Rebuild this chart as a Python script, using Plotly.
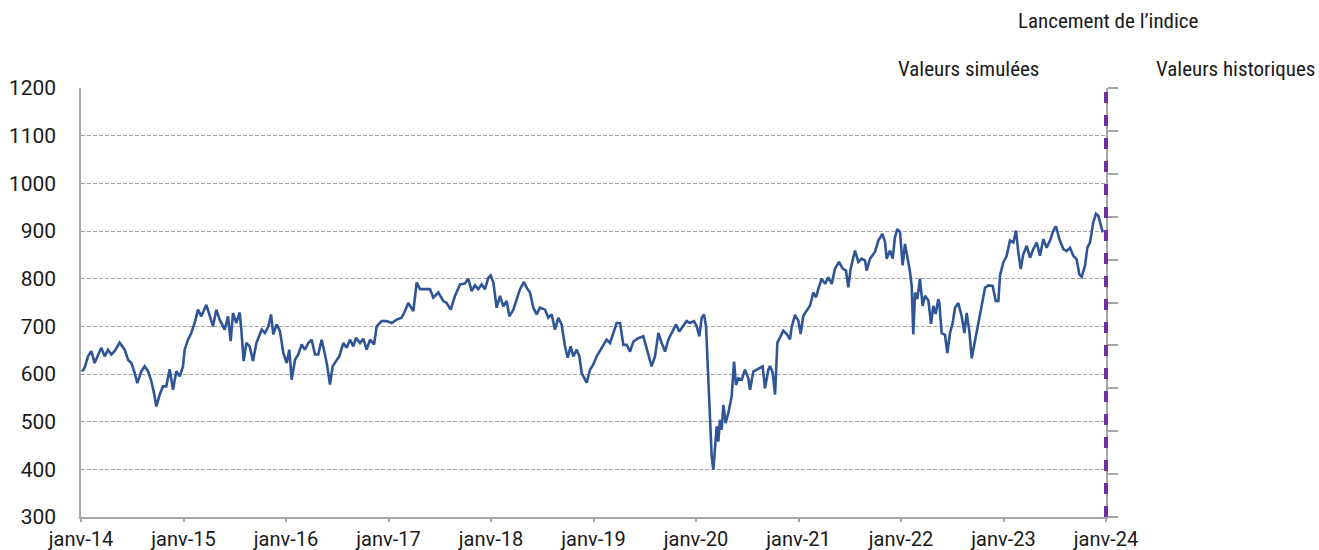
import plotly.graph_objects as go

# decimal years (date position) and index level
t_2014 = [2014.010, 2014.036, 2014.068, 2014.101, 2014.133, 2014.166, 2014.198, 2014.231, 2014.263, 2014.296,
          2014.328, 2014.377, 2014.426, 2014.459, 2014.491, 2014.524, 2014.550, 2014.589, 2014.621, 2014.654,
          2014.686, 2014.712, 2014.735, 2014.768, 2014.800, 2014.832, 2014.865, 2014.898, 2014.930, 2014.963,
          2014.995]
v_2014 = [605, 613, 637, 648, 623, 641, 655, 637, 651, 641,
          648, 666, 651, 630, 623, 602, 581, 606, 616, 606,
          585, 560, 532, 557, 574, 574, 610, 567, 606, 595,
          616]

t_2015 = [2015.011, 2015.044, 2015.076, 2015.109, 2015.141, 2015.174, 2015.223, 2015.255, 2015.288, 2015.320,
          2015.353, 2015.402, 2015.434, 2015.460, 2015.483, 2015.515, 2015.548, 2015.564, 2015.587, 2015.613,
          2015.646, 2015.678, 2015.711, 2015.763, 2015.795, 2015.828, 2015.854, 2015.876, 2015.909, 2015.941,
          2015.974]
v_2015 = [651, 672, 686, 707, 735, 721, 745, 721, 700, 735,
          714, 693, 721, 669, 728, 707, 729, 693, 627, 665,
          658, 627, 665, 693, 686, 700, 725, 683, 704, 690,
          644]

t_2016 = [2016.007, 2016.032, 2016.055, 2016.088, 2016.120, 2016.153, 2016.185, 2016.218, 2016.250, 2016.283,
          2016.315, 2016.348, 2016.380, 2016.403, 2016.429, 2016.455, 2016.488, 2016.520, 2016.559, 2016.592,
          2016.624, 2016.657, 2016.683, 2016.722, 2016.754, 2016.787, 2016.820, 2016.859, 2016.885, 2016.933,
          2016.982]
v_2016 = [623, 651, 588, 630, 641, 662, 651, 665, 672, 641,
          641, 672, 641, 616, 578, 616, 627, 637, 665, 655,
          672, 658, 676, 665, 674, 651, 672, 662, 700, 711,
          711]

t_2017 = [2017.031, 2017.080, 2017.128, 2017.161, 2017.193, 2017.242, 2017.275, 2017.307, 2017.356, 2017.405,
          2017.437, 2017.486, 2017.535, 2017.567, 2017.607, 2017.649, 2017.698, 2017.746, 2017.779, 2017.811,
          2017.844, 2017.876, 2017.909, 2017.941, 2017.974, 2017.997]
v_2017 = [707, 714, 718, 732, 749, 732, 792, 778, 778, 778,
          760, 771, 753, 749, 735, 764, 788, 790, 800, 774,
          786, 778, 788, 778, 802, 807]

t_2018 = [2018.023, 2018.055, 2018.088, 2018.120, 2018.153, 2018.179, 2018.218, 2018.250, 2018.283, 2018.322,
          2018.348, 2018.380, 2018.413, 2018.446, 2018.478, 2018.527, 2018.559, 2018.592, 2018.624, 2018.657,
          2018.689, 2018.722, 2018.748, 2018.777, 2018.803, 2018.836, 2018.862, 2018.885, 2018.907, 2018.933,
          2018.966, 2018.998]
v_2018 = [792, 739, 764, 742, 753, 721, 735, 756, 778, 793,
          781, 771, 739, 725, 739, 735, 718, 725, 693, 718,
          704, 658, 634, 658, 637, 651, 637, 602, 592, 582,
          609, 620]

t_2019 = [2019.031, 2019.063, 2019.096, 2019.128, 2019.161, 2019.193, 2019.226, 2019.259, 2019.291, 2019.324,
          2019.356, 2019.389, 2019.437, 2019.486, 2019.519, 2019.551, 2019.567, 2019.600, 2019.633, 2019.665,
          2019.698, 2019.730, 2019.763, 2019.805, 2019.837, 2019.870, 2019.909, 2019.941, 2019.980]
v_2019 = [637, 648, 661, 672, 665, 686, 707, 707, 661, 661,
          647, 668, 675, 679, 654, 630, 616, 637, 686, 665,
          647, 672, 686, 704, 689, 700, 711, 707, 711]

t_2020 = [2020.007, 2020.033, 2020.055, 2020.078, 2020.098, 2020.111, 2020.120, 2020.137, 2020.153, 2020.169,
          2020.185, 2020.202, 2020.218, 2020.234, 2020.250, 2020.267, 2020.289, 2020.315, 2020.348, 2020.371,
          2020.390, 2020.413, 2020.446, 2020.478, 2020.511, 2020.527, 2020.559, 2020.592, 2020.624, 2020.650,
          2020.673, 2020.706, 2020.722, 2020.748, 2020.771, 2020.794, 2020.820, 2020.852, 2020.885, 2020.917,
          2020.933, 2020.966, 2020.998]
v_2020 = [700, 679, 718, 725, 700, 630, 616, 511, 427, 399,
          455, 490, 458, 504, 483, 535, 497, 518, 553, 626,
          577, 591, 588, 609, 591, 567, 605, 609, 612, 616,
          570, 609, 617, 603, 557, 666, 677, 691, 684, 673,
          698, 724, 712]

t_2021 = [2021.021, 2021.047, 2021.080, 2021.112, 2021.145, 2021.171, 2021.193, 2021.226, 2021.259, 2021.291,
          2021.324, 2021.356, 2021.395, 2021.431, 2021.463, 2021.486, 2021.509, 2021.551, 2021.584, 2021.616,
          2021.649, 2021.665, 2021.698, 2021.746, 2021.779, 2021.818, 2021.844, 2021.860, 2021.893, 2021.919,
          2021.941, 2021.964, 2021.990]
v_2021 = [684, 722, 733, 743, 771, 761, 778, 800, 789, 803,
          789, 821, 835, 821, 817, 782, 821, 859, 835, 842,
          838, 817, 842, 856, 880, 894, 877, 842, 859, 842,
          887, 904, 898]

t_2022 = [2022.016, 2022.039, 2022.062, 2022.088, 2022.104, 2022.120, 2022.137, 2022.159, 2022.185, 2022.211,
          2022.234, 2022.267, 2022.293, 2022.315, 2022.338, 2022.364, 2022.374, 2022.397, 2022.429, 2022.452,
          2022.478, 2022.504, 2022.527, 2022.559, 2022.592, 2022.618, 2022.641, 2022.667, 2022.690, 2022.712,
          2022.738, 2022.771, 2022.797, 2022.820, 2022.852, 2022.894, 2022.924, 2022.950, 2022.966, 2022.998]
v_2022 = [828, 873, 849, 814, 785, 683, 771, 757, 800, 743,
          764, 754, 705, 743, 726, 757, 749, 686, 682, 644,
          686, 707, 739, 749, 721, 686, 728, 689, 633, 658,
          686, 721, 756, 781, 786, 785, 753, 753, 806, 834]

t_2023 = [2023.031, 2023.063, 2023.096, 2023.122, 2023.145, 2023.168, 2023.193, 2023.226, 2023.259, 2023.291,
          2023.324, 2023.356, 2023.389, 2023.421, 2023.454, 2023.486, 2023.512, 2023.545, 2023.584, 2023.616,
          2023.649, 2023.681, 2023.713, 2023.740, 2023.763, 2023.795, 2023.818, 2023.844, 2023.876, 2023.902,
          2023.925, 2023.948, 2023.968]
v_2023 = [848, 880, 876, 901, 855, 820, 851, 869, 844, 862,
          876, 848, 883, 865, 880, 901, 910, 883, 862, 858,
          865, 848, 841, 809, 804, 827, 865, 876, 918, 936,
          932, 915, 897]

years = [2014, 2015, 2016, 2017, 2018, 2019, 2020, 2021, 2022, 2023, 2024]
tick_labels = ["janv-14", "janv-15", "janv-16", "janv-17", "janv-18", "janv-19",
               "janv-20", "janv-21", "janv-22", "janv-23", "janv-24"]
launch_date = 2024.0
x_start, x_end = 2014, 2024

x_all = t_2014 + t_2015 + t_2016 + t_2017 + t_2018 + t_2019 + t_2020 + t_2021 + t_2022 + t_2023
y_all = v_2014 + v_2015 + v_2016 + v_2017 + v_2018 + v_2019 + v_2020 + v_2021 + v_2022 + v_2023

X_TICK_FONT = dict(family="Roboto, Arial, sans-serif", size=20, color="#1a1a1a")
Y_TICK_FONT = dict(family="Roboto, Arial, sans-serif", size=21, color="#1a1a1a")
ANN_FONT = dict(family="'Roboto Condensed', 'Liberation Sans Narrow', 'DejaVu Sans Condensed', Roboto, sans-serif",
                size=21, color="#1a1a1a")

fig = go.Figure()
fig.add_trace(go.Scatter(x=x_all, y=y_all, mode="lines",
                         line=dict(color="#2F5597", width=2.6), showlegend=False,
                         hoverinfo="x+y"))
# invisible trace on the secondary (right) axis so it is drawn
fig.add_trace(go.Scatter(x=[launch_date], y=[0], yaxis="y2", mode="markers",
                         marker=dict(opacity=0), showlegend=False, hoverinfo="skip"))

# launch date marker (paper-referenced so it is not clipped at the plot edge)
launch_paper = (launch_date - x_start) / (x_end - x_start)
fig.add_shape(type="line", xref="paper", yref="paper", x0=launch_paper, x1=launch_paper, y0=0, y1=1,
              line=dict(color="#7030A0", width=4, dash="11px,12px"), layer="above")

fig.update_layout(
    width=1319, height=550,
    margin=dict(l=81, r=213, t=88, b=33),
    paper_bgcolor="white", plot_bgcolor="white",
    xaxis=dict(range=[x_start, x_end], tickmode="array", tickvals=years, ticktext=tick_labels,
               showgrid=False, zeroline=False, showline=True, linecolor="#A6A6A6", linewidth=1.5,
               ticks="outside", ticklen=3, tickcolor="#A6A6A6", tickwidth=1.5,
               tickfont=X_TICK_FONT, automargin=False),
    yaxis=dict(range=[300, 1200], dtick=100, tick0=300,
               showgrid=True, gridcolor="#A0A0A0", gridwidth=1, griddash="4px,2px",
               zeroline=False, showline=True, linecolor="#A6A6A6", linewidth=1.5,
               ticks="", tickfont=Y_TICK_FONT, ticklabelstandoff=19, automargin=False),
    yaxis2=dict(range=[0, 10], dtick=1, overlaying="y", side="right", showgrid=False,
                zeroline=False, showline=True, linecolor="#A6A6A6", linewidth=1.5,
                ticks="outside", ticklen=10, tickcolor="#A6A6A6", tickwidth=1.5,
                showticklabels=False, automargin=False),
    annotations=[
        dict(text="Lancement de l’indice", xref="paper", yref="paper", x=1.002, y=1.156,
             xanchor="center", yanchor="middle", showarrow=False, font=ANN_FONT),
        dict(text="Valeurs simulées", xref="paper", yref="paper", x=0.866, y=1.044,
             xanchor="center", yanchor="middle", showarrow=False, font=ANN_FONT),
        dict(text="Valeurs historiques", xref="paper", yref="paper", x=1.126, y=1.044,
             xanchor="center", yanchor="middle", showarrow=False, font=ANN_FONT),
    ],
)

fig.write_html("out.html", config={"displayModeBar": False})

# remove the default page margin so the figure fills the window exactly
with open("out.html", "r", encoding="utf-8") as f:
    html = f.read()
html = html.replace("<body>", "<body style=\"margin:0;padding:0;overflow:hidden\">", 1)
with open("out.html", "w", encoding="utf-8") as f:
    f.write(html)
